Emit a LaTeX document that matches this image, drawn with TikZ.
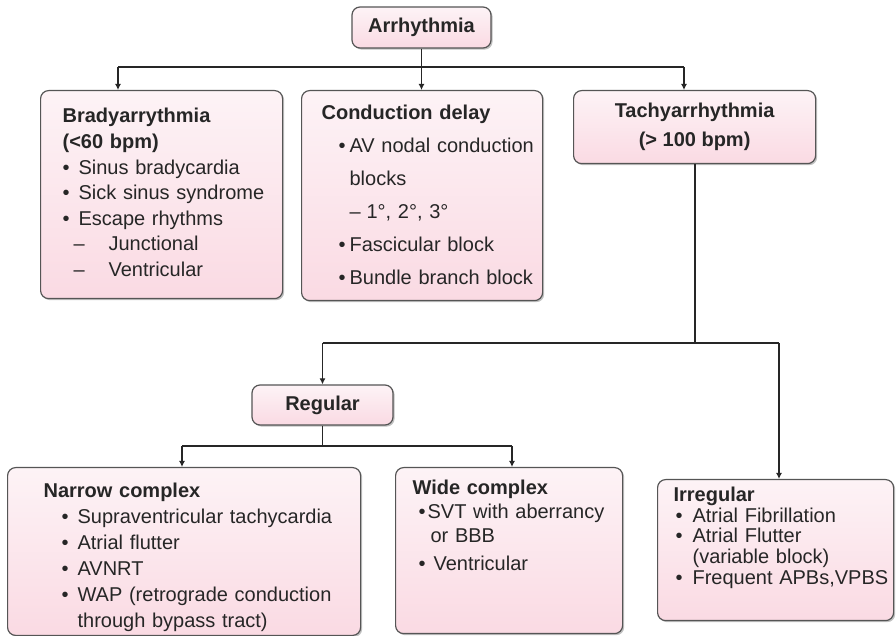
\documentclass[tikz,border=0pt]{standalone}
\usepackage{fontspec}
\setmainfont{Liberation Sans}
\usetikzlibrary{arrows.meta,positioning,shadows}
\usepackage{xcolor}
\definecolor{pinktop}{HTML}{FDF3F6}
\definecolor{pinkbot}{HTML}{FADAE3}
\definecolor{edge}{HTML}{555555}
\definecolor{ink}{HTML}{262626}

% bullet / dash / continuation lines
\newcommand{\bul}[2]{\hspace*{#1}\makebox[#2][l]{\textbullet}}
\newcommand{\dsh}[2]{\hspace*{#1}\makebox[#2][l]{--}}
\newcommand{\cnt}[1]{\hspace*{#1}}
\newcommand{\lines}[1]{\begin{tabular}{@{}l@{}}#1\end{tabular}}

\begin{document}
\begin{tikzpicture}[
  x=0.5pt, y=-0.5pt,
  font=\fontsize{10}{11.5}\selectfont,
  box/.style={draw=edge, line width=0.6pt, rounded corners=4pt,
    top color=pinktop, bottom color=pinkbot, text=ink,
    drop shadow={shadow xshift=0.8pt, shadow yshift=-0.8pt, fill=gray!70, opacity=0.7},
    align=left, inner ysep=0pt},
  title/.style={box, align=center, font=\fontsize{10}{14.5}\selectfont\bfseries},
  arrow/.style={-{Latex[length=3pt,width=3pt]}, line width=0.9pt, draw=ink},
  line/.style={line width=0.9pt, draw=ink}
]
\useasboundingbox (0,0) rectangle (896,636);

\node[title, minimum width=69.5pt, minimum height=20.5pt] (arr) at (421.5,27.5) {Arrhythmia};

\node[box, anchor=north west, inner xsep=11pt, text width=99pt, minimum height=104pt,
  font=\fontsize{10}{12.8}\selectfont] (brady) at (40,90)
  {\lines{\textbf{Bradyarrythmia}\\\textbf{(<60 bpm)}\\
   \bul{0pt}{8pt}Sinus bradycardia\\
   \bul{0pt}{8pt}Sick sinus syndrome\\
   \bul{0pt}{8pt}Escape rhythms\\
   \dsh{5.5pt}{17.5pt}Junctional\\
   \dsh{5.5pt}{17.5pt}Ventricular}};

\node[box, anchor=north west, inner xsep=10pt, text width=100.5pt, minimum height=105pt,
  font=\fontsize{10}{16.5}\selectfont] (cond) at (301,90)
  {\lines{\textbf{Conduction delay}\\
   \bul{8.5pt}{5.5pt}AV nodal conduction\\
   \cnt{14pt}blocks\\
   \dsh{14pt}{8.5pt}1°, 2°, 3°\\
   \bul{8.5pt}{5.5pt}Fascicular block\\
   \bul{8.5pt}{5.5pt}Bundle branch block}};

\node[title, anchor=north west, minimum width=121pt, minimum height=36.5pt] (tachy) at (573,90)
  {Tachyarrhythmia\\(> 100 bpm)};

\node[title, minimum width=70.5pt, minimum height=20pt] (reg) at (322.5,405) {Regular};

\node[box, anchor=north west, inner xsep=18pt, text width=140.5pt, minimum height=83pt,
  font=\fontsize{10}{13}\selectfont] (narrow) at (7,467)
  {\lines{\rule{0pt}{15pt}\textbf{Narrow complex}\\
   \bul{9pt}{8pt}Supraventricular tachycardia\\
   \bul{9pt}{8pt}Atrial flutter\\
   \bul{9pt}{8pt}AVNRT\\
   \bul{9pt}{8pt}WAP (retrograde conduction\\
   \cnt{17pt}through bypass tract)}};

\node[box, anchor=north west, inner xsep=8.5pt, text width=96.5pt, minimum height=83pt,
  font=\fontsize{10}{12.2}\selectfont] (wide) at (395,467)
  {\lines{\textbf{Wide complex}\\
   \bul{3pt}{4.5pt}SVT with aberrancy\\
   \cnt{9pt}or BBB\\[1.5pt]
   \bul{3pt}{7.5pt}Ventricular\\[11pt]\mbox{}}};

\node[box, anchor=north west, inner xsep=8pt, text width=102pt, minimum height=70.5pt,
  font=\fontsize{10}{10.4}\selectfont] (irreg) at (657,479)
  {\lines{\textbf{Irregular}\\
   \bul{1pt}{8.5pt}Atrial Fibrillation\\
   \bul{1pt}{8.5pt}Atrial Flutter\\
   \cnt{9.5pt}(variable block)\\
   \bul{1pt}{8.5pt}Frequent APBs,VPBS\\[1pt]\mbox{}}};

% first level
\coordinate (ba) at (118,67);
\coordinate (ta) at (684,67);
\draw[line] (ba) -- (ta);
\draw[arrow] (arr.south) -- (arr.south |- cond.north);
\draw[arrow] (ba) -- (ba |- brady.north);
\draw[arrow] (ta) -- (ta |- tachy.north);

% tachyarrhythmia split
\coordinate (ra) at (322.5,343);
\coordinate (ia) at (779,343);
\draw[line] (tachy.south) -- (tachy.south |- ra);
\draw[line] (ra) -- (ia);
\draw[arrow] (ra) -- (reg.north);
\draw[arrow] (ia) -- (ia |- irreg.north);

% regular split
\coordinate (na) at (182,446);
\coordinate (wa) at (512,446);
\draw[line] (reg.south) -- (reg.south |- na);
\draw[line] (na) -- (wa);
\draw[arrow] (na) -- (na |- narrow.north);
\draw[arrow] (wa) -- (wa |- wide.north);

\end{tikzpicture}
\end{document}
